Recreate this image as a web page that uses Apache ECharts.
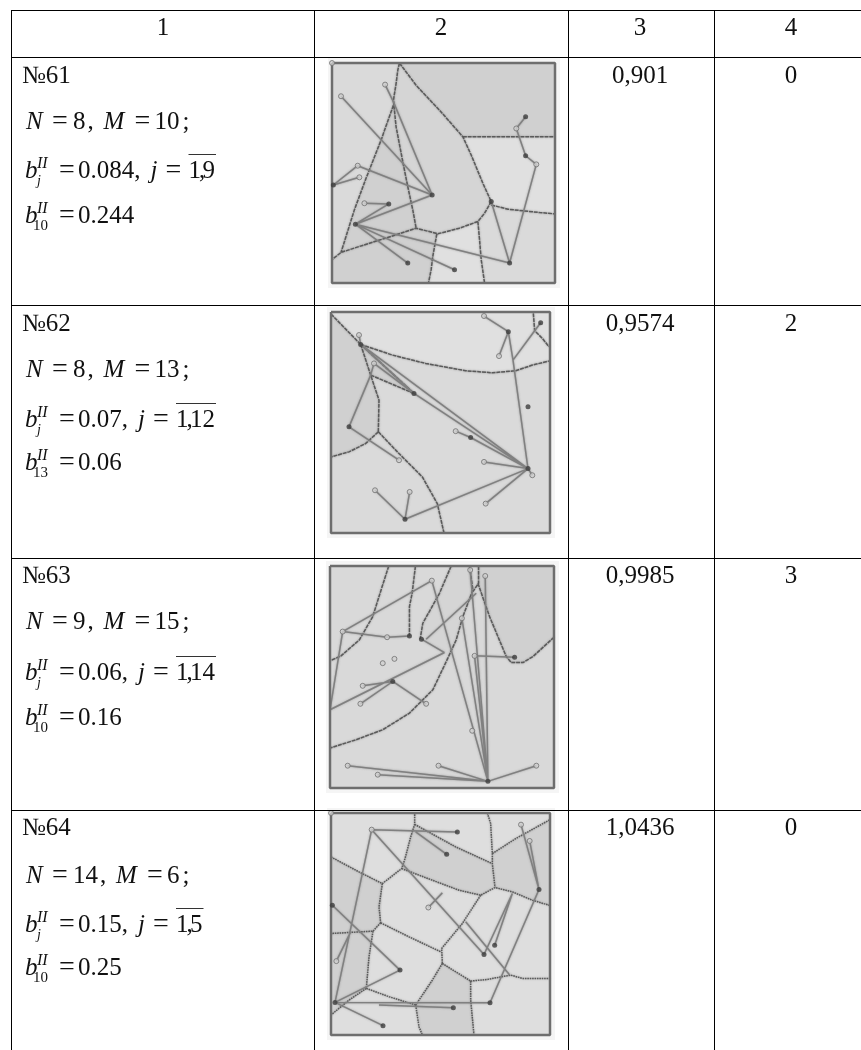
<!DOCTYPE html>
<html>
<head>
<meta charset="UTF-8">
<title>Table 61-64</title>
<style>
    * { margin: 0; padding: 0 }
    html, body { background: #fff; }
    #main { width: 861px; height: 1050px; }
</style>
</head>
<body>
<div id="main"></div>
<script src="https://cdn.jsdelivr.net/npm/echarts@6/dist/echarts.min.js"></script>
<script>
// table text
var headers = ['1', '2', '3', '4'];
var rowNames = ['№61', '№62', '№63', '№64'];
var nValues = ['8', '8', '9', '14'];
var mValues = ['10', '13', '15', '6'];
var bValues = ['0.084', '0.07', '0.06', '0.15'];
var jRanges = ['1,9', '1,12', '1,14', '1,5'];
var lastIndex = ['10', '13', '10', '10'];
var lastValues = ['0.244', '0.06', '0.16', '0.25'];
var col3Values = ['0,901', '0,9574', '0,9985', '1,0436'];
var col4Values = ['0', '2', '3', '0'];

// diagram 61: coordinates
var boundaries61 = [
    [[250,38],[300,105],[370,180],[440,260],[465,315],[500,400],[525,455],[505,490],[485,515],[430,535],[365,552],[300,535],[240,555],[130,590],[75,608],[50,628]],
    [[440,260],[716,260]],
    [[525,465],[575,478],[670,488],[716,492]],
    [[250,38],[245,60],[240,100],[232,150],[240,230],[262,345],[275,410],[290,480],[300,535]],
    [[232,165],[195,270],[150,385],[115,480],[75,608]],
    [[362,552],[350,620],[345,660],[337,700]],
    [[485,515],[490,570],[495,630],[505,700]]
];
var edges61 = [
    [[75,138],[348,435]], [[207,103],[232,155],[348,435]], [[125,347],[348,435]], [[125,347],[52,405]],
    [[52,405],[130,382]], [[145,460],[218,462]], [[218,462],[118,523]], [[348,435],[118,523]],
    [[118,523],[275,640]], [[118,523],[415,660]], [[118,523],[580,640]], [[580,640],[525,455]],
    [[580,640],[660,343]], [[660,343],[628,317]], [[628,317],[600,235]], [[600,235],[628,200]]
];
var openNodes61 = [[75,138],[207,103],[125,347],[130,382],[145,460],[660,343],[600,235],[48,38]];
var darkNodes61 = [[52,405],[218,462],[348,435],[118,523],[275,640],[415,660],[580,640],[525,455],[628,317],[628,200]];
var darkRegions61 = [
    [[250,38],[716,38],[716,260],[440,260]],
    [[232,165],[240,230],[262,345],[275,410],[290,480],[300,535],[240,555],[75,608]],
    [[48,628],[75,608],[240,555],[300,535],[365,552],[350,620],[337,700],[48,700]]
];
var midRegions61 = [
    [[250,38],[440,260],[525,455],[485,515],[430,535],[365,552],[300,535],[262,345],[232,150]]
];
var lightRegions61 = [
    [[440,260],[716,260],[716,492],[670,488],[575,478],[525,465],[500,400]],
    [[365,552],[430,535],[485,515],[495,630],[505,700],[337,700],[350,620]]
];

// diagram 62
var boundaries62 = [
    [[46,42],[135,133]],
    [[135,133],[230,165],[330,190],[450,212],[530,218],[600,212],[650,195],[700,183]],
    [[135,133],[165,225],[190,300],[188,395]],
    [[188,395],[150,430],[100,455],[46,470]],
    [[188,395],[250,460],[320,530],[365,610],[385,698]],
    [[165,225],[295,280],[135,133]],
    [[653,40],[657,92],[680,115],[700,140]]
];
var edges62 = [
    [[130,105],[135,133],[637,505]], [[135,133],[295,280]], [[295,280],[637,505]], [[175,190],[295,280]],
    [[175,190],[165,225],[100,380],[250,480]], [[420,393],[465,412],[637,505]], [[505,485],[637,505]],
    [[637,505],[650,525]], [[637,505],[510,610]], [[637,505],[268,657]], [[268,657],[178,570]],
    [[268,657],[282,575]], [[637,505],[592,180],[578,95]], [[578,95],[505,48]], [[578,95],[550,168]],
    [[592,180],[657,92],[675,68]]
];
var openNodes62 = [[130,105],[175,190],[250,480],[420,393],[505,485],[650,525],[510,610],[178,570],[282,575],[505,48],[550,168]];
var darkNodes62 = [[135,133],[295,280],[100,380],[465,412],[637,505],[268,657],[578,95],[675,68],[637,320]];
var darkRegions62 = [
    [[46,42],[135,133],[165,225],[190,300],[188,395],[150,430],[100,455],[46,470]],
    [[135,133],[295,280],[165,225]]
];
var midRegions62 = [];
var lightRegions62 = [
    [[46,36],[703,36],[703,183],[650,195],[600,212],[530,218],[450,212],[330,190],[230,165],[135,133],[46,42]]
];

// diagram 63
var boundaries63 = [
    [[218,48],[195,120],[170,200],[130,270],[75,318],[42,333]],
    [[298,48],[288,130],[280,170],[280,258]],
    [[405,48],[370,130],[320,220],[312,268]],
    [[460,48],[470,120],[440,200],[420,270],[395,325],[350,420],[280,490],[200,540],[120,570],[42,595]],
    [[487,48],[487,100],[470,125]],
    [[485,100],[520,200],[570,320],[585,338],[620,338],[650,320],[713,262]]
];
var edges63 = [
    [[80,245],[347,92]], [[80,245],[213,262],[280,258]], [[80,245],[42,480]], [[42,480],[385,308]],
    [[385,308],[316,268]], [[330,268],[480,130]], [[347,92],[515,695]], [[437,205],[515,695]],
    [[462,60],[515,695]], [[507,78],[515,695]], [[475,318],[595,322]], [[475,318],[515,695]],
    [[230,395],[140,408]], [[230,395],[133,462]], [[230,395],[330,462]], [[95,648],[515,695]],
    [[185,675],[515,695]], [[367,648],[515,695]], [[660,648],[515,695]]
];
var openNodes63 = [[80,245],[347,92],[213,262],[200,340],[235,327],[140,408],[133,462],[330,462],[437,205],[462,60],[507,78],[475,318],[468,543],[95,648],[185,675],[367,648],[660,648]];
var darkNodes63 = [[280,258],[316,268],[230,395],[595,322],[515,695]];
var darkRegions63 = [
    [[487,48],[713,48],[713,262],[650,320],[620,338],[585,338],[570,320],[520,200],[485,100]]
];
var midRegions63 = [
    [[405,48],[460,48],[470,120],[440,200],[395,325],[385,308],[316,268],[320,220],[370,130]]
];
var lightRegions63 = [];

// diagram 64
var boundaries64 = [
    [[46,170],[130,215],[200,250],[258,205],[268,175],[285,110],[297,72],[297,38]],
    [[297,72],[420,140],[530,190]],
    [[515,38],[525,70],[530,160],[530,190],[538,262]],
    [[530,160],[600,115],[703,58]],
    [[258,205],[350,240],[430,270],[495,285],[538,262],[590,275],[650,300],[703,316]],
    [[200,250],[190,320],[195,368]],
    [[195,368],[172,393],[46,400]],
    [[195,368],[280,410],[375,455]],
    [[495,285],[440,370],[378,445],[380,490]],
    [[380,490],[465,543]],
    [[380,490],[350,540],[300,615]],
    [[465,543],[515,538],[585,525],[620,535],[703,535]],
    [[465,543],[465,600],[475,705]],
    [[172,393],[160,470],[152,565]],
    [[152,565],[220,590],[300,615]],
    [[152,565],[100,600],[46,645]],
    [[300,615],[310,680],[320,705]]
];
var edges64 = [
    [[168,88],[425,95]], [[168,88],[505,463]], [[300,95],[393,162]], [[168,88],[58,607]],
    [[50,315],[253,510]], [[105,395],[62,483]], [[253,510],[58,607]], [[58,607],[202,677]],
    [[58,607],[523,608]], [[190,615],[413,623]], [[380,278],[338,322]], [[523,608],[670,268]],
    [[670,268],[616,73]], [[670,268],[642,122]], [[590,280],[505,463]], [[590,280],[537,435]],
    [[450,365],[582,525]]
];
var openNodes64 = [[46,38],[168,88],[338,322],[62,483],[616,73],[642,122]];
var darkNodes64 = [[425,95],[393,162],[50,315],[505,463],[537,435],[253,510],[58,607],[202,677],[413,623],[523,608],[670,268]];
var darkRegions64 = [
    [[297,72],[530,190],[538,262],[495,285],[430,270],[350,240],[258,205],[268,175]],
    [[46,170],[200,250],[195,368],[172,393],[46,400]],
    [[530,160],[703,58],[703,316],[650,300],[590,275],[538,262],[530,190]],
    [[46,400],[172,393],[152,565],[46,645]],
    [[300,615],[350,540],[380,490],[465,543],[475,705],[320,705]]
];
var midRegions64 = [];
var lightRegions64 = [];

var panels = [
    { box: { left: 332, top: 63, width: 223, height: 220 }, range: [48, 716, 38, 700], boundaries: boundaries61, edges: edges61, open: openNodes61, dark: darkNodes61, regions: [darkRegions61, midRegions61, lightRegions61], base: '#dadada', dash: [4, 0.8] },
    { box: { left: 331, top: 312, width: 219, height: 221 }, range: [46, 703, 36, 698], boundaries: boundaries62, edges: edges62, open: openNodes62, dark: darkNodes62, regions: [darkRegions62, midRegions62, lightRegions62], base: '#dadada', dash: [4, 0.8] },
    { box: { left: 330, top: 566, width: 224, height: 222 }, range: [42, 713, 48, 715], boundaries: boundaries63, edges: edges63, open: openNodes63, dark: darkNodes63, regions: [darkRegions63, midRegions63, lightRegions63], base: '#d9d9d9', dash: [4, 0.8] },
    { box: { left: 331, top: 813, width: 219, height: 222 }, range: [46, 703, 38, 705], boundaries: boundaries64, edges: edges64, open: openNodes64, dark: darkNodes64, regions: [darkRegions64, midRegions64, lightRegions64], base: '#dedede', dash: [1.6, 0.8] }
];
var shades = ['#d0d0d0', '#d5d5d5', '#e0e0e0'];

var tableX = [11.5, 314.5, 568.5, 714.5];
var tableY = [10.5, 57.5, 305.5, 558.5, 810.5];
var colCenter = [163, 441, 640, 791];
// baselines of the four text lines, from the top rule of each row
var lineOffsets = [
    [26, 72, 121, 166],
    [26, 72, 122, 165],
    [25, 71, 122, 167],
    [25, 73, 122, 165]
];

var SIZE = 25;
var FAMILY = '"Liberation Serif", "Times New Roman", serif';
var measureCtx = document.createElement('canvas').getContext('2d');
function textWidth(str, size) {
    measureCtx.font = size + 'px ' + FAMILY;
    return measureCtx.measureText(str).width;
}

var graphics = [];
function addText(str, x, baseline, size, italic, align) {
    graphics.push({
        type: 'text',
        z: 10,
        style: {
            text: str,
            x: x,
            y: baseline - size * 0.29,
            fill: '#111',
            font: (italic ? 'italic ' : '') + size + 'px ' + FAMILY,
            textAlign: align || 'left',
            textVerticalAlign: 'middle'
        }
    });
}
function addRule(x1, y1, x2, y2, color) {
    graphics.push({
        type: 'line',
        z: 10,
        shape: { x1: x1, y1: y1, x2: x2, y2: y2 },
        style: { stroke: color || '#000', lineWidth: 1 }
    });
}

// rules
tableY.forEach(function (y) { addRule(11, y, 861, y); });
tableX.forEach(function (x) { addRule(x, 10, x, 1050); });

// header
headers.forEach(function (h, i) { addText(h, colCenter[i], 36, SIZE, false, 'center'); });

// rows
rowNames.forEach(function (name, r) {
    var top = tableY[r + 1];
    var off = lineOffsets[r];
    var s = SIZE;
    addText(name, 22, top + off[0], s);
    addText(col3Values[r], colCenter[2], top + off[0], s, false, 'center');
    addText(col4Values[r], colCenter[3], top + off[0], s, false, 'center');

    // N = .., M = ..;
    var y = top + off[1];
    addText('N', 26, y, s, true);
    addText('=', 52, y, 28);
    addText(nValues[r], 73, y, s);
    var cx = 73 + textWidth(nValues[r], s) + 2;
    addText(',', cx, y, s);
    var mx = cx + 16;
    addText('M', mx, y, s, true);
    addText('=', mx + 31, y, 28);
    addText(mValues[r], mx + 51, y, s);
    addText(';', mx + 51 + textWidth(mValues[r], s) + 3, y, s);

    // b_j^II = .., j = range
    y = top + off[2];
    addText('b', 25, y, s, true);
    addText('II', 37, y - 10, 16, true);
    addText('j', 37, y + 7, 14, true);
    addText('=', 59, y, 28);
    var bStr = bValues[r] + ',';
    addText(bStr, 78, y, s);
    var jx = 78 + textWidth(bStr, s) + 10;
    addText('j', jx, y, s, true);
    addText('=', jx + 15, y, 28);
    var rx = jx + 38;
    // the comma sits tight between the digits in the formula
    var parts = jRanges[r].split(',');
    addText(parts[0], rx, y, s);
    addText(',', rx + 10.5, y, s);
    addText(parts[1], rx + 14, y, s);
    addRule(rx, y - 24, rx + 15 + textWidth(parts[1], s), y - 24, '#333');

    // last coefficient
    y = top + off[3];
    addText('b', 25, y, s, true);
    addText('II', 37, y - 10, 16, true);
    addText(lastIndex[r], 33, y + 7, 15);
    addText('=', 59, y, 28);
    addText(lastValues[r], 78, y, s);
});

// pale margin around each scanned diagram
panels.forEach(function (p) {
    graphics.push({
        type: 'rect',
        z: -10,
        shape: { x: p.box.left - 4, y: p.box.top - 5, width: p.box.width + 9, height: p.box.height + 10 },
        style: { fill: '#f5f5f5' }
    });
});

function polylines(list) {
    var out = [];
    list.forEach(function (line, i) {
        if (i > 0) { out.push(['-', '-']); }
        line.forEach(function (pt) { out.push(pt); });
    });
    return out;
}

var grids = [], xAxes = [], yAxes = [], series = [];
panels.forEach(function (p, i) {
    var r = p.range;
    grids.push({
        left: p.box.left, top: p.box.top, width: p.box.width, height: p.box.height,
        show: true, backgroundColor: p.base, borderWidth: 0
    });
    xAxes.push({ gridIndex: i, type: 'value', min: r[0], max: r[1], show: false });
    yAxes.push({ gridIndex: i, type: 'value', min: r[2], max: r[3], inverse: true, show: false });

    var polys = [];
    p.regions.forEach(function (group, s) {
        group.forEach(function (pts) { polys.push({ pts: pts, fill: shades[s] }); });
    });
    series.push({
        type: 'custom',
        xAxisIndex: i, yAxisIndex: i,
        silent: true,
        z: 1,
        data: polys.map(function (d, k) { return [k]; }),
        encode: { x: -1, y: -1 },
        renderItem: function (params, api) {
            var d = polys[params.dataIndex];
            return {
                type: 'polygon',
                shape: { points: d.pts.map(function (pt) { return api.coord(pt); }) },
                style: { fill: d.fill }
            };
        }
    });
    series.push({
        type: 'line',
        xAxisIndex: i, yAxisIndex: i,
        z: 2,
        silent: true,
        showSymbol: false,
        animation: false,
        connectNulls: false,
        lineStyle: { color: '#5a5a5a', width: 1.5, type: p.dash, shadowColor: 'rgba(90,90,90,0.6)', shadowBlur: 2 },
        data: polylines(p.boundaries)
    });
    series.push({
        type: 'line',
        xAxisIndex: i, yAxisIndex: i,
        z: 3,
        silent: true,
        showSymbol: false,
        animation: false,
        connectNulls: false,
        lineStyle: { color: '#808080', width: 1.5, shadowColor: 'rgba(120,120,120,0.7)', shadowBlur: 2 },
        data: polylines(p.edges)
    });
    // frame
    series.push({
        type: 'line',
        xAxisIndex: i, yAxisIndex: i,
        z: 4,
        silent: true,
        clip: false,
        showSymbol: false,
        animation: false,
        lineStyle: { color: '#6e6e6e', width: 2.5 },
        data: [[r[0], r[2]], [r[1], r[2]], [r[1], r[3]], [r[0], r[3]], [r[0], r[2]]]
    });
    series.push({
        type: 'scatter',
        xAxisIndex: i, yAxisIndex: i,
        z: 5,
        silent: true,
        clip: false,
        symbolSize: 5,
        itemStyle: { color: '#cfcfcf', borderColor: '#707070', borderWidth: 1 },
        data: p.open
    });
    series.push({
        type: 'scatter',
        xAxisIndex: i, yAxisIndex: i,
        z: 5,
        silent: true,
        clip: false,
        symbolSize: 5,
        itemStyle: { color: '#3d3d3d' },
        data: p.dark
    });
});

var chart = echarts.init(document.getElementById('main'), null, { renderer: 'canvas' });
chart.setOption({
    animation: false,
    backgroundColor: '#fff',
    tooltip: { show: false },
    grid: grids,
    xAxis: xAxes,
    yAxis: yAxes,
    series: series,
    graphic: { elements: graphics }
});
</script>
</body>
</html>
